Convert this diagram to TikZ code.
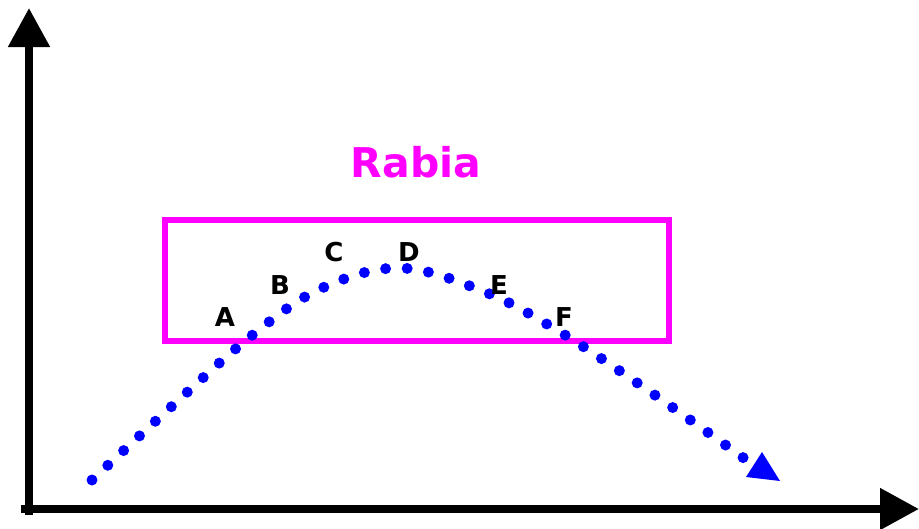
\documentclass[tikz,border=0pt]{standalone}
\usepackage{fontspec}
\setmainfont{DejaVu Sans}
\usetikzlibrary{arrows.meta}
\definecolor{mag}{RGB}{255,0,255}
\definecolor{dotblue}{RGB}{0,0,255}
\tikzset{
  axis/.style={line width=8pt,-{Triangle[length=39pt,width=40pt]}},
  lbl/.style={font=\fontsize{26}{26}\selectfont\bfseries,text=black,inner sep=0pt},
  dotcurve/.style={dotblue,line width=11pt,line cap=round,dash pattern=on 0pt off 21.6pt}
}
\begin{document}
\begin{tikzpicture}[x=1pt,y=-1pt]
\useasboundingbox (0,0) rectangle (919,528);
% axes
\coordinate (o1) at (29,515);
\coordinate (ytip) at (29,8);
\coordinate (o2) at (21,509);
\coordinate (xtip) at (919,509);
\draw[axis] (o1) -- (ytip);
\draw[axis] (o2) -- (xtip);
% box
\draw[mag,line width=6pt] (165,220) rectangle (669,341);
\node[font=\fontsize{41}{41}\selectfont\bfseries,text=mag,inner sep=0pt] (title) at (416,162) {Rabia};
% curve
\draw[dotcurve] plot[smooth,tension=0.6] coordinates {(92,480) (171,407) (250,337) (320,289) (400,268) (485,292) (560,332) (649,391) (752,464)};
\coordinate (t1) at (746,477);
\coordinate (t2) at (780,481);
\coordinate (t3) at (762,452);
\fill[dotblue] (t1) -- (t2) -- (t3) -- cycle;
% labels
\node[lbl] (A) at (225,317) {A};
\node[lbl] (B) at (280,285) {B};
\node[lbl] (C) at (334,252) {C};
\node[lbl] (D) at (409,252) {D};
\node[lbl] (E) at (499,285) {E};
\node[lbl] (F) at (564,317) {F};
\end{tikzpicture}
\end{document}
